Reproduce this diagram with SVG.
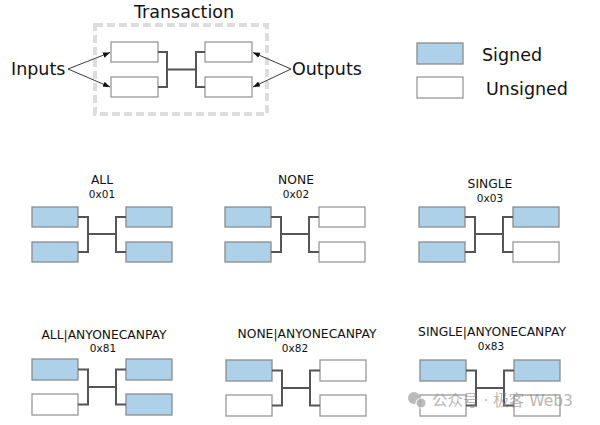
<svg xmlns="http://www.w3.org/2000/svg" width="600" height="425" viewBox="0 0 600 425">
<style>
text{font-family:"DejaVu Sans","Noto Sans CJK SC",sans-serif;fill:#111}
.s{fill:#aed1ea;stroke:#8c8c8c;stroke-width:1.3}
.u{fill:#fff;stroke:#999;stroke-width:1.3}
.br{fill:none;stroke:#555;stroke-width:2}
.ar{fill:none;stroke:#222;stroke-width:0.9;marker-end:url(#ah)}
.big{font-size:17.5px}
.t{font-size:12.3px;text-anchor:middle}
.h{font-size:10.5px;text-anchor:middle}
.wm{font-size:15.5px;fill:#8a8a8a;opacity:0.75}
</style>
<defs>
<marker id="ah" viewBox="0 0 10 10" refX="10" refY="5" markerWidth="7" markerHeight="7" markerUnits="userSpaceOnUse" orient="auto">
<path d="M0,1 L10,5 L0,9 z" fill="#111"/>
</marker>
</defs>
<rect width="600" height="425" fill="#fff"/>

<g id="transaction">
<rect x="95" y="25" width="172" height="89" fill="none" stroke="#ddd" stroke-width="4" stroke-dasharray="8,4"/>
<text x="184" y="18" class="big" text-anchor="middle" font-size="17">Transaction</text>
<rect class="u" x="111" y="42" width="47" height="20"/>
<rect class="u" x="111" y="77" width="47" height="20"/>
<rect class="u" x="205" y="42" width="47" height="20"/>
<rect class="u" x="205" y="77" width="47" height="20"/>
</g>
<g id="inputs-label"><text x="11" y="75" class="big">Inputs</text></g>
<g id="outputs-label"><text x="292" y="75" class="big">Outputs</text></g>

<g id="legend">
<rect class="s" x="417" y="43" width="46" height="21"/>
<text x="482" y="61" class="big">Signed</text>
<rect class="u" x="417" y="77" width="46" height="21"/>
<text x="486" y="95" class="big">Unsigned</text>
</g>

<g id="all">
<text x="102" y="184" class="t">ALL</text>
<text x="102" y="198" class="h">0x01</text>
<rect class="s" x="32" y="207" width="46" height="20"/>
<rect class="s" x="32" y="242" width="46" height="20"/>
<rect class="s" x="126" y="207" width="46" height="20"/>
<rect class="s" x="126" y="242" width="46" height="20"/>
</g>
<g id="none">
<text x="296" y="184" class="t">NONE</text>
<text x="296" y="198" class="h">0x02</text>
<rect class="s" x="225" y="207" width="46" height="20"/>
<rect class="s" x="225" y="242" width="46" height="20"/>
<rect class="u" x="319" y="207" width="46" height="20"/>
<rect class="u" x="319" y="242" width="46" height="20"/>
</g>
<g id="single">
<text x="490" y="188" class="t">SINGLE</text>
<text x="490" y="202" class="h">0x03</text>
<rect class="s" x="419" y="207" width="46" height="20"/>
<rect class="s" x="419" y="242" width="46" height="20"/>
<rect class="s" x="513" y="207" width="46" height="20"/>
<rect class="u" x="513" y="242" width="46" height="20"/>
</g>
<g id="all-acp">
<text x="104" y="339" class="t">ALL|ANYONECANPAY</text>
<text x="103" y="352" class="h">0x81</text>
<rect class="s" x="32" y="359" width="46" height="21"/>
<rect class="u" x="32" y="394" width="46" height="21"/>
<rect class="s" x="126" y="359" width="46" height="21"/>
<rect class="s" x="126" y="394" width="46" height="21"/>
</g>
<g id="none-acp">
<text x="307" y="338" class="t">NONE|ANYONECANPAY</text>
<text x="295" y="352" class="h">0x82</text>
<rect class="s" x="226" y="360" width="46" height="21"/>
<rect class="u" x="226" y="395" width="46" height="21"/>
<rect class="u" x="320" y="360" width="46" height="21"/>
<rect class="u" x="320" y="395" width="46" height="21"/>
</g>
<g id="single-acp">
<text x="492" y="336" class="t">SINGLE|ANYONECANPAY</text>
<text x="491" y="350" class="h">0x83</text>
<rect class="s" x="420" y="360" width="46" height="21"/>
<rect class="u" x="420" y="395" width="46" height="21"/>
<rect class="s" x="514" y="360" width="46" height="21"/>
<rect class="u" x="514" y="395" width="46" height="21"/>
</g>

<g id="connectors">
<path class="br" d="M158,52 H167 V87 H158 M167,69.5 H196 M205,52 H196 V87 H205"/>
<path class="ar" d="M68,69 L110,52.5"/>
<path class="ar" d="M68,69 L110,87"/>
<path class="ar" d="M291,69 L253,52.5"/>
<path class="ar" d="M291,69 L253,87"/>
<path class="br" d="M78,217 H88 V252 H78 M88,234 H116 M126,217 H116 V252 H126"/>
<path class="br" d="M271,217 H281 V252 H271 M281,234 H309 M319,217 H309 V252 H319"/>
<path class="br" d="M465,217 H475 V252 H465 M475,234 H503 M513,217 H503 V252 H513"/>
<path class="br" d="M78,369.5 H88 V404.5 H78 M88,387 H116 M126,369.5 H116 V404.5 H126"/>
<path class="br" d="M272,370.5 H282 V405.5 H272 M282,388 H310 M320,370.5 H310 V405.5 H320"/>
<path class="br" d="M466,370.5 H476 V405.5 H466 M476,388 H504 M514,370.5 H504 V405.5 H514"/>
</g>

<g id="watermark" opacity="0.8">
<circle cx="414" cy="398" r="6" fill="#aaa"/>
<circle cx="421" cy="403" r="5" fill="#aaa" stroke="#fff" stroke-width="1"/>
<text x="432" y="406" class="wm">公众号 · 极客 Web3</text>
</g>
</svg>
